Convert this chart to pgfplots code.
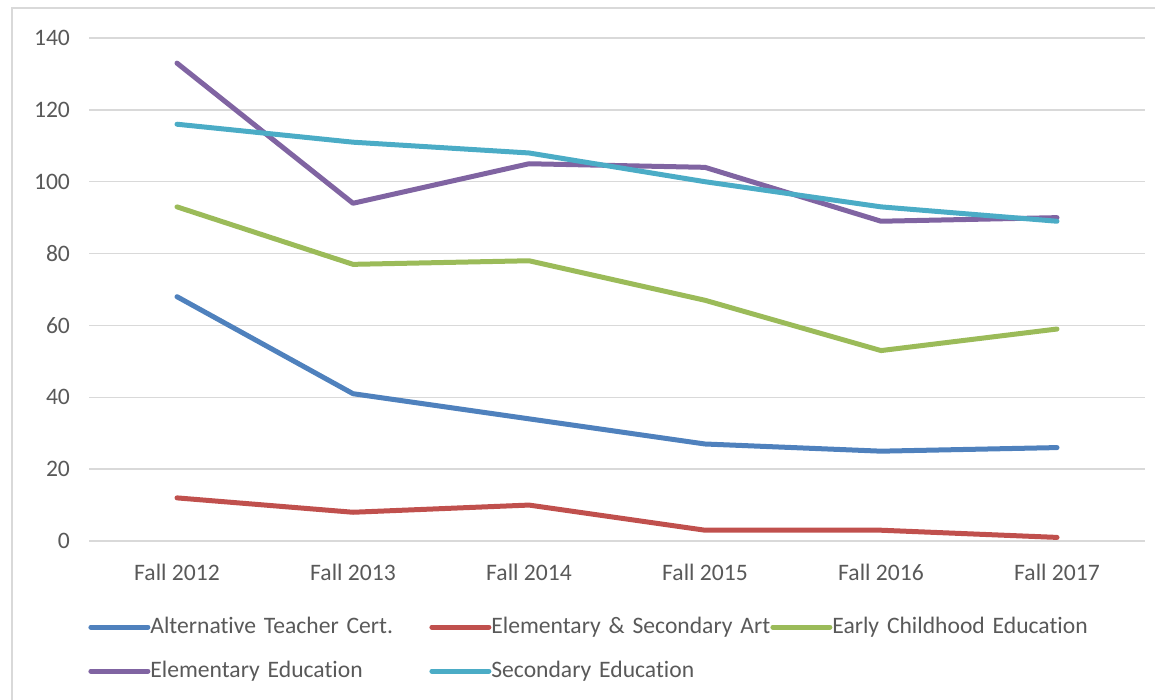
\documentclass[border=0pt]{standalone}
\usepackage{pgfplots}
\pgfplotsset{compat=1.18}
\usepackage{fontspec}
\setmainfont{Carlito}[RawFeature={-liga;-calt}]
\definecolor{txt}{HTML}{595959}
\definecolor{gridc}{HTML}{D9D9D9}
\definecolor{cblue}{HTML}{4F81BD}
\definecolor{cred}{HTML}{C0504D}
\definecolor{cgreen}{HTML}{9BBB59}
\definecolor{cpurple}{HTML}{8064A2}
\definecolor{ccyan}{HTML}{4BACC6}
\begin{document}
\begin{tikzpicture}
\path[use as bounding box] (-44.5pt,-79.5pt) rectangle (533pt,270.5pt);
\begin{scope}
\clip (-44.5pt,-79.5pt) rectangle (533pt,270.5pt);
\draw[gridc, line width=0.75pt] (-38.5pt,266.5pt) rectangle (545pt,-95pt);
\end{scope}
\begin{axis}[
  at={(0,0)}, anchor=south west,
  scale only axis, width=528pt, height=251.5pt,
  xmin=-0.5, xmax=5.5, ymin=0, ymax=140,
  xtick={0,1,2,3,4,5},
  xticklabels={Fall 2012,Fall 2013,Fall 2014,Fall 2015,Fall 2016,Fall 2017},
  ytick={0,20,...,140},
  axis line style={draw=none},
  tick style={draw=none},
  ymajorgrids, xmajorgrids=false, grid style={gridc, line width=0.75pt},
  every tick label/.style={font=\fontsize{11.8}{14}\selectfont, text=txt},
  /pgf/number format/assume math mode=true,
  xticklabel style={yshift=-8pt},
  yticklabel style={xshift=-6pt},
  clip=false,
  legend columns=3,
  legend image code/.code={\draw[#1] (0pt,0pt) -- (28.5pt,0pt);},
  legend style={at={(0,0)}, anchor=west, xshift=-0.5pt, yshift=-54pt,
    draw=none, fill=none, inner sep=0pt, row sep=10pt, column sep=0pt,
    nodes={font=\fontsize{11.8}{14}\selectfont, text=txt, inner sep=0pt,
      text width=139.5pt, align=left, text height=9pt, text depth=3pt, xshift=-1.5pt},
  },
  every axis plot/.append style={line width=2.5pt, line cap=round, line join=round},
]
\draw[gridc, line width=0.75pt] (axis cs:-0.5,0) -- (axis cs:5.5,0);
\addplot[cblue] coordinates {(0,68)(1,41)(2,34)(3,27)(4,25)(5,26)};
\addlegendentry{Alternative Teacher Cert.}
\addplot[cred] coordinates {(0,12)(1,8)(2,10)(3,3)(4,3)(5,1)};
\addlegendentry{Elementary \& Secondary Art}
\addplot[cgreen] coordinates {(0,93)(1,77)(2,78)(3,67)(4,53)(5,59)};
\addlegendentry{Early Childhood Education}
\addplot[cpurple] coordinates {(0,133)(1,94)(2,105)(3,104)(4,89)(5,90)};
\addlegendentry{Elementary Education}
\addplot[ccyan] coordinates {(0,116)(1,111)(2,108)(3,100)(4,93)(5,89)};
\addlegendentry{Secondary Education}
\end{axis}
\end{tikzpicture}
\end{document}
